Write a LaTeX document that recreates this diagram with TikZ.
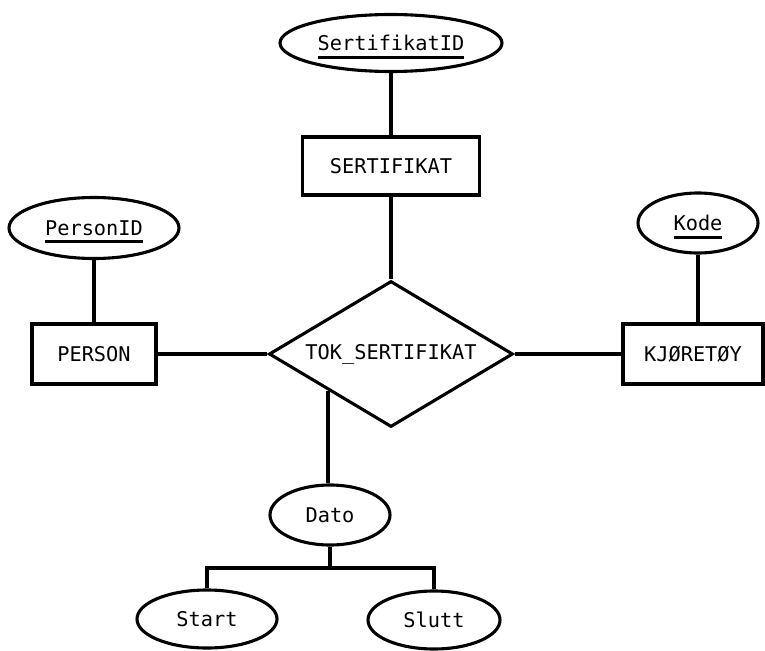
\documentclass[tikz,border=0pt]{standalone}
\usepackage{fontspec}
\setmonofont{DejaVu Sans Mono}
\usetikzlibrary{shapes.geometric,calc}
\newcommand\keyattr[1]{\setbox0\hbox{#1}\rlap{\usebox0}\smash{\rule[-8pt]{\wd0}{3pt}}}
\begin{document}
\begin{tikzpicture}[x=1pt,y=-1pt,
  font=\ttfamily\fontsize{20.3}{24}\selectfont,
  line width=3.1pt,
  attr/.style={draw, ellipse, inner sep=0pt},
  entity/.style={draw, rectangle, inner sep=0pt},
  rel/.style={draw, diamond, inner sep=0pt, shape aspect=1.67}]
\useasboundingbox (0,0) rectangle (765,650);
\node[attr, minimum width=222pt, minimum height=57pt] (sid) at (391,43) {\keyattr{SertifikatID}};
\node[entity, minimum width=177pt, minimum height=58pt] (sert) at (391,166) {SERTIFIKAT};
\node[rel, minimum width=244pt, minimum height=146pt] (tok) at (391,354) {TOK\_SERTIFIKAT};
\node[attr, minimum width=170pt, minimum height=61pt] (pid) at (94,228) {\keyattr{PersonID}};
\node[entity, minimum width=124pt, minimum height=60pt] (person) at (94,354) {PERSON};
\node[attr, minimum width=120pt, minimum height=60pt] (kode) at (698,223) {\keyattr{Kode}};
\node[entity, minimum width=140pt, minimum height=60pt] (kj) at (693,354) {KJØRETØY};
\node[attr, minimum width=120pt, minimum height=60pt] (dato) at (330,515) {Dato};
\node[attr, minimum width=140pt, minimum height=58pt] (start) at (207,619) {Start};
\node[attr, minimum width=132pt, minimum height=58pt] (slutt) at (434,620) {Slutt};
\coordinate (dtop) at ($(tok.west)!0.49!(tok.south)$);
\coordinate (fork) at (dato.south |- 0,568);
\draw (sid.south) -- (sert.north);
\draw (sert.south) -- (tok.north);
\draw (pid.south) -- (person.north);
\draw (person.east) -- (tok.west);
\draw (kj.west) -- (tok.east);
\draw (kode.south) -- (kode.south |- kj.north);
\draw (dtop) -- (dtop |- dato.north);
\draw (dato.south) -- (fork);
\draw (start.north) |- (fork) -| (slutt.north);
\end{tikzpicture}
\end{document}
